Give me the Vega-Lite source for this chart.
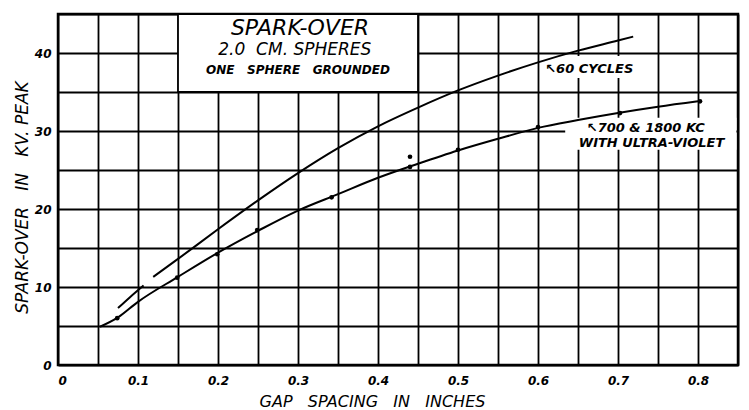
{
  "$schema": "https://vega.github.io/schema/vega-lite/v6.json",
  "width": 680,
  "height": 351,
  "autosize": {"type": "none"},
  "padding": {"left": 58, "top": 14, "right": 11, "bottom": 45},
  "background": "white",
  "config": {
    "view": {"stroke": "black", "strokeWidth": 2.5},
    "font": "DejaVu Sans",
    "axis": {
      "grid": true, "gridColor": "black", "gridWidth": 1.8, "gridOpacity": 1,
      "domain": false, "ticks": false,
      "labelFont": "DejaVu Sans", "labelFontStyle": "italic", "labelFontWeight": "bold",
      "labelFontSize": 12, "labelColor": "black",
      "titleFont": "DejaVu Sans", "titleFontStyle": "italic", "titleFontWeight": "normal",
      "titleFontSize": 16, "titleColor": "black"
    }
  },
  "datasets": {
    "curves": [
      {"series": "60 cycles", "piece": "a", "gap": 0.075, "kv": 7.3},
      {"series": "60 cycles", "piece": "a", "gap": 0.09, "kv": 8.7},
      {"series": "60 cycles", "piece": "a", "gap": 0.107, "kv": 10.2},
      {"series": "60 cycles", "piece": "b", "gap": 0.119, "kv": 11.3},
      {"series": "60 cycles", "piece": "b", "gap": 0.15, "kv": 13.6},
      {"series": "60 cycles", "piece": "b", "gap": 0.2, "kv": 17.4},
      {"series": "60 cycles", "piece": "b", "gap": 0.25, "kv": 21.1},
      {"series": "60 cycles", "piece": "b", "gap": 0.3, "kv": 24.6},
      {"series": "60 cycles", "piece": "b", "gap": 0.35, "kv": 27.8},
      {"series": "60 cycles", "piece": "b", "gap": 0.4, "kv": 30.6},
      {"series": "60 cycles", "piece": "b", "gap": 0.45, "kv": 33.0},
      {"series": "60 cycles", "piece": "b", "gap": 0.5, "kv": 35.2},
      {"series": "60 cycles", "piece": "b", "gap": 0.55, "kv": 37.1},
      {"series": "60 cycles", "piece": "b", "gap": 0.6, "kv": 38.8},
      {"series": "60 cycles", "piece": "b", "gap": 0.65, "kv": 40.3},
      {"series": "60 cycles", "piece": "b", "gap": 0.7, "kv": 41.6},
      {"series": "60 cycles", "piece": "b", "gap": 0.719, "kv": 42.1},
      {"series": "700 & 1800 kc", "piece": "c", "gap": 0.0525, "kv": 4.9},
      {"series": "700 & 1800 kc", "piece": "c", "gap": 0.075, "kv": 6.1},
      {"series": "700 & 1800 kc", "piece": "c", "gap": 0.1, "kv": 8.1},
      {"series": "700 & 1800 kc", "piece": "c", "gap": 0.15, "kv": 11.3},
      {"series": "700 & 1800 kc", "piece": "c", "gap": 0.2, "kv": 14.4},
      {"series": "700 & 1800 kc", "piece": "c", "gap": 0.25, "kv": 17.2},
      {"series": "700 & 1800 kc", "piece": "c", "gap": 0.3, "kv": 19.8},
      {"series": "700 & 1800 kc", "piece": "c", "gap": 0.35, "kv": 21.9},
      {"series": "700 & 1800 kc", "piece": "c", "gap": 0.4, "kv": 24.0},
      {"series": "700 & 1800 kc", "piece": "c", "gap": 0.45, "kv": 25.8},
      {"series": "700 & 1800 kc", "piece": "c", "gap": 0.5, "kv": 27.5},
      {"series": "700 & 1800 kc", "piece": "c", "gap": 0.55, "kv": 29.0},
      {"series": "700 & 1800 kc", "piece": "c", "gap": 0.6, "kv": 30.4},
      {"series": "700 & 1800 kc", "piece": "c", "gap": 0.65, "kv": 31.4},
      {"series": "700 & 1800 kc", "piece": "c", "gap": 0.7, "kv": 32.3},
      {"series": "700 & 1800 kc", "piece": "c", "gap": 0.75, "kv": 33.1},
      {"series": "700 & 1800 kc", "piece": "c", "gap": 0.8, "kv": 33.8}
    ],
    "points": [
      {"gap": 0.074, "kv": 6.0},
      {"gap": 0.149, "kv": 11.2},
      {"gap": 0.199, "kv": 14.2},
      {"gap": 0.249, "kv": 17.3},
      {"gap": 0.342, "kv": 21.5},
      {"gap": 0.44, "kv": 26.7},
      {"gap": 0.44, "kv": 25.4},
      {"gap": 0.5, "kv": 27.6},
      {"gap": 0.6, "kv": 30.5},
      {"gap": 0.7025, "kv": 32.3},
      {"gap": 0.8025, "kv": 33.8}
    ],
    "one": [{}]
  },
  "encoding": {
    "x": {
      "type": "quantitative",
      "scale": {"domain": [0, 0.85], "nice": false, "zero": false},
      "axis": {
        "values": [0, 0.05, 0.1, 0.15, 0.2, 0.25, 0.3, 0.35, 0.4, 0.45, 0.5, 0.55, 0.6, 0.65, 0.7, 0.75, 0.8, 0.85],
        "labelExpr": "abs(datum.value * 10 - round(datum.value * 10)) < 0.001 ? (datum.value == 0 ? '0' : format(datum.value, '.1f')) : ''",
        "labelPadding": 10,
        "title": "GAP\u00a0\u00a0\u00a0SPACING\u00a0\u00a0\u00a0IN\u00a0\u00a0\u00a0INCHES",
        "titleX": 314, "titleY": 36, "titleBaseline": "middle", "titleAnchor": "middle"
      }
    },
    "y": {
      "type": "quantitative",
      "scale": {"domain": [0, 45], "nice": false},
      "axis": {
        "values": [0, 5, 10, 15, 20, 25, 30, 35, 40, 45],
        "labelExpr": "datum.value % 10 == 0 && datum.value < 45 ? datum.value : ''",
        "labelPadding": 7,
        "title": "SPARK-OVER\u00a0\u00a0\u00a0IN\u00a0\u00a0\u00a0KV.\u00a0PEAK",
        "titleX": -36, "titleY": 183, "titleBaseline": "middle", "titleAnchor": "middle", "titleAngle": -90,
        "titleFontSize": 17
      }
    }
  },
  "layer": [
    {
      "data": {"name": "one"},
      "mark": {"type": "rect", "fill": "white", "stroke": "black", "strokeWidth": 1.8},
      "encoding": {
        "x": {"datum": 0.15}, "x2": {"datum": 0.45},
        "y": {"datum": 35}, "y2": {"datum": 45}
      }
    },
    {
      "data": {"name": "one"},
      "mark": {"type": "rect", "fill": "white"},
      "encoding": {
        "x": {"datum": 0.612}, "x2": {"datum": 0.74},
        "y": {"datum": 36.8}, "y2": {"datum": 39.6}
      }
    },
    {
      "data": {"name": "one"},
      "mark": {"type": "rect", "fill": "white"},
      "encoding": {
        "x": {"datum": 0.634}, "x2": {"datum": 0.848},
        "y": {"datum": 27.6}, "y2": {"datum": 31.7}
      }
    },
    {
      "data": {"name": "curves"},
      "mark": {"type": "line", "color": "black", "strokeWidth": 2, "interpolate": "monotone"},
      "encoding": {
        "x": {"field": "gap", "type": "quantitative"},
        "y": {"field": "kv", "type": "quantitative"},
        "detail": {"field": "piece"}
      }
    },
    {
      "data": {"name": "points"},
      "mark": {"type": "circle", "color": "black", "opacity": 1, "size": 22},
      "encoding": {
        "x": {"field": "gap", "type": "quantitative"},
        "y": {"field": "kv", "type": "quantitative"}
      }
    },
    {
      "data": {"name": "one"},
      "mark": {"type": "text", "text": "SPARK-OVER", "fontSize": 22, "fontStyle": "italic", "align": "center", "baseline": "middle", "color": "black"},
      "encoding": {"x": {"datum": 0.3025}, "y": {"datum": 43.2}}
    },
    {
      "data": {"name": "one"},
      "mark": {"type": "text", "text": "2.0\u00a0\u00a0CM.\u00a0SPHERES", "fontSize": 17, "fontStyle": "italic", "align": "center", "baseline": "middle", "color": "black"},
      "encoding": {"x": {"datum": 0.296}, "y": {"datum": 40.4}}
    },
    {
      "data": {"name": "one"},
      "mark": {"type": "text", "text": "ONE\u00a0\u00a0\u00a0SPHERE\u00a0\u00a0\u00a0GROUNDED", "fontSize": 12, "fontWeight": "bold", "fontStyle": "italic", "align": "center", "baseline": "middle", "color": "black"},
      "encoding": {"x": {"datum": 0.3}, "y": {"datum": 37.8}}
    },
    {
      "data": {"name": "one"},
      "mark": {"type": "text", "text": "↖60 CYCLES", "fontSize": 13, "fontWeight": "bold", "fontStyle": "italic", "align": "left", "baseline": "middle", "color": "black"},
      "encoding": {"x": {"datum": 0.609}, "y": {"datum": 38.0}}
    },
    {
      "data": {"name": "one"},
      "mark": {"type": "text", "text": "↖700 & 1800 KC", "fontSize": 13, "fontWeight": "bold", "fontStyle": "italic", "align": "left", "baseline": "middle", "color": "black"},
      "encoding": {"x": {"datum": 0.661}, "y": {"datum": 30.4}}
    },
    {
      "data": {"name": "one"},
      "mark": {"type": "text", "text": "WITH ULTRA-VIOLET", "fontSize": 13, "fontWeight": "bold", "fontStyle": "italic", "align": "left", "baseline": "middle", "color": "black"},
      "encoding": {"x": {"datum": 0.651}, "y": {"datum": 28.5}}
    }
  ]
}
